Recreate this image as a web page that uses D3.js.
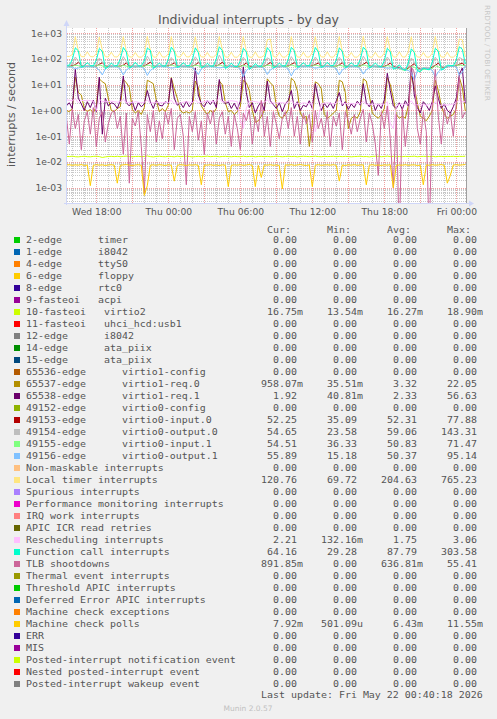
<!DOCTYPE html>
<html><head><meta charset="utf-8">
<script src="https://cdn.jsdelivr.net/npm/d3@7"></script>
<style>
html,body{margin:0;padding:0;background:#f0f0f0;}
svg{display:block;}
text{font-family:"DejaVu Sans",sans-serif;fill:#555;}
.mono{font-family:"DejaVu Sans Mono",monospace;white-space:pre;}
</style></head><body>
<svg id="c" width="497" height="719"></svg>
<script>
// ---------------- DATA ----------------
const chartTitle = "Individual interrupts - by day";
const yAxisTitle = "interrupts / second";
const yTickValues = [1e3, 1e2, 1e1, 1e0, 1e-1, 1e-2, 1e-3];
const yTickLabels = ["1e+03","1e+02","1e+01","1e+00","1e-01","1e-02","1e-03"];
const xTickTimes = [new Date(2026,4,20,18), new Date(2026,4,21,0), new Date(2026,4,21,6),
                    new Date(2026,4,21,12), new Date(2026,4,21,18), new Date(2026,4,22,0)];
const xTickLabels = ["Wed 18:00","Thu 00:00","Thu 06:00","Thu 12:00","Thu 18:00","Fri 00:00"];
const dataStart = new Date(2026,4,20,15,30);   // first sample, 15-minute steps
const stepMinutes = 15;

const legendLabels = [
 "2-edge      timer","1-edge      i8042","4-edge      ttyS0","6-edge      floppy","8-edge      rtc0",
 "9-fasteoi   acpi","10-fasteoi   virtio2","11-fasteoi   uhci_hcd:usb1","12-edge      i8042",
 "14-edge      ata_piix","15-edge      ata_piix","65536-edge      virtio1-config",
 "65537-edge      virtio1-req.0","65538-edge      virtio1-req.1","49152-edge      virtio0-config",
 "49153-edge      virtio0-input.0","49154-edge      virtio0-output.0","49155-edge      virtio0-input.1",
 "49156-edge      virtio0-output.1","Non-maskable interrupts","Local timer interrupts","Spurious interrupts",
 "Performance monitoring interrupts","IRQ work interrupts","APIC ICR read retries","Rescheduling interrupts",
 "Function call interrupts","TLB shootdowns","Thermal event interrupts","Threshold APIC interrupts",
 "Deferred Error APIC interrupts","Machine check exceptions","Machine check polls","ERR","MIS",
 "Posted-interrupt notification event","Nested posted-interrupt event","Posted-interrupt wakeup event"];
const legendColors = ["#00cc00","#0066b3","#ff8000","#ffcc00","#330099","#990099","#ccff00","#ff0000",
 "#808080","#008f00","#00487d","#b35a00","#b38f00","#6b006b","#8fb300","#b30000","#bebebe","#80ff80",
 "#80c1ff","#ffc080","#ffe680","#aa80ff","#ee00cc","#ff8080","#666600","#ffbfff","#00ffcc","#cc6699",
 "#999900","#00cc00","#0066b3","#ff8000","#ffcc00","#330099","#990099","#ccff00","#ff0000","#808080"];
const curVals = ["0.00","0.00","0.00","0.00","0.00","0.00","16.75m","0.00","0.00","0.00","0.00","0.00",
 "958.07m","1.92","0.00","52.25","54.65","54.51","55.89","0.00","120.76","0.00","0.00","0.00","0.00",
 "2.21","64.16","891.85m","0.00","0.00","0.00","0.00","7.92m","0.00","0.00","0.00","0.00","0.00"];
const minVals = ["0.00","0.00","0.00","0.00","0.00","0.00","13.54m","0.00","0.00","0.00","0.00","0.00",
 "35.51m","40.81m","0.00","35.09","23.58","36.33","15.18","0.00","69.72","0.00","0.00","0.00","0.00",
 "132.16m","29.28","0.00","0.00","0.00","0.00","0.00","501.09u","0.00","0.00","0.00","0.00","0.00"];
const avgVals = ["0.00","0.00","0.00","0.00","0.00","0.00","16.27m","0.00","0.00","0.00","0.00","0.00",
 "3.32","2.33","0.00","52.31","59.06","50.83","50.37","0.00","204.63","0.00","0.00","0.00","0.00",
 "1.75","87.79","636.81m","0.00","0.00","0.00","0.00","6.43m","0.00","0.00","0.00","0.00","0.00"];
const maxVals = ["0.00","0.00","0.00","0.00","0.00","0.00","18.90m","0.00","0.00","0.00","0.00","0.00",
 "22.05","56.63","0.00","77.88","143.31","71.47","95.14","0.00","765.23","0.00","0.00","0.00","0.00",
 "3.06","303.58","55.41","0.00","0.00","0.00","0.00","11.55m","0.00","0.00","0.00","0.00","0.00"];
const lastUpdate = "Last update: Fri May 22 00:40:18 2026";
const muninVersion = "Munin 2.0.57";
const rrdCredit = "RRDTOOL / TOBI OETIKER";

// series values (15-minute samples, 134 points)
const virtio2 = [
 .0165,.0162,.0168,.0160,.0158,.0163,.0166,.0161, .0159,.0164,.0167,.0162,.0150,.0158,.0163,.0165,
 .0161,.0166,.0160,.0164,.0168,.0162,.0159,.0163, .0165,.0161,.0163,.0170,.0162,.0158,.0164,.0166,
 .0162,.0160,.0165,.0163,.0159,.0167,.0161,.0164, .0166,.0163,.0158,.0162,.0165,.0160,.0163,.0168,
 .0161,.0164,.0166,.0159,.0163,.0165,.0162,.0160, .0164,.0162,.0160,.0167,.0161,.0163,.0166,.0159,
 .0163,.0165,.0161,.0164,.0160,.0162,.0168,.0163, .0160,.0163,.0166,.0162,.0165,.0159,.0163,.0166,
 .0164,.0161,.0163,.0167,.0162,.0160,.0165,.0162, .0163,.0166,.0160,.0164,.0161,.0165,.0162,.0159,
 .0162,.0164,.0167,.0161,.0163,.0158,.0164,.0166, .0165,.0160,.0163,.0168,.0162,.0164,.0160,.0163,
 .0161,.0165,.0162,.0164,.0167,.0160,.0163,.0165, .0164,.0162,.0166,.0160,.0163,.0165,.0161,.0164,
 .0163,.0166,.0161,.0165,.0164,.01675];
const virtio1Req0 = [
 1.0,0.9,1.2,20,5,4,1.2,0.9,  1.1,0.8,1.5,17,13,11,3,1.0,  0.9,1.2,1.4,16,12,8,1.1,0.8,
 1.0,0.7,1.3,15,13,11,2.5,0.9,  1.2,0.9,1.6,19,7,3,1.0,0.8,  0.9,0.8,1.0,14,8,1.5,1.0,0.7,
 1.0,0.8,1.2,14,10,2,0.9,1.0,  0.7,0.9,1.4,15,12,6,1.0,0.35,  0.4,0.6,1.0,17,12,9,1.5,0.6,
 0.5,0.7,1.1,18,14,6,0.8,0.5,  0.6,0.04,0.3,13,11,7,0.7,0.5,  0.6,0.8,1.0,15,13,5,0.2,0.5,
 0.6,0.5,0.9,17,14,4,0.8,0.6,  0.5,0.7,1.2,19,10,3,0.7,0.5,  0.6,0.5,1.5,22,8,2,0.6,0.5,
 0.4,0.6,1.0,15,6,1.5,0.7,0.5,  0.6,0.7,1.2,19,8,0.96];
const virtio1Req1 = [
 1.5,2.0,1.2,40,3,1.8,1.0,2.2,  1.3,2.5,0.9,20,0.12,3,1.5,2.0,  1.8,1.2,2.5,22,2.0,1.5,2.2,1.0,
 2.0,1.4,1.8,6,2.2,1.2,2.5,1.6,  1.5,2.2,1.9,18,3.0,1.6,2.0,1.3,  2.3,1.4,2.0,45,4,1.8,1.4,2.4,
 1.7,2.5,1.3,16,2.5,1.8,2.2,1.2,  1.9,1.1,2.3,50,5,1.3,2.0,0.8,  1.5,2.2,1.0,14,2.4,1.7,1.2,2.0,
 0.9,1.8,2.5,6,1.2,2.2,1.0,1.6,  1.4,2.4,1.2,11,2.8,1.0,1.9,1.3,  2.0,1.2,2.4,5,1.5,2.2,1.1,1.8,
 1.3,2.3,1.6,11,2.0,1.4,2.5,1.0,  1.8,1.2,2.6,28,6,1.5,1.2,2.0,  1.1,2.4,1.5,50,4,1.3,0.8,2.2,
 1.6,1.0,2.2,9,3,1.2,1.8,1.0,  0.8,1.4,3.0,25,45,1.92];
const virtio0In0 = [
 53,52,55,60,74,56,52,51, 52,50,54,62,72,55,51,52, 51,52,53,58,70,54,52,50, 52,51,54,63,76,56,51,52,
 53,52,55,60,71,55,52,51, 51,50,53,59,73,56,50,51, 52,51,54,61,75,55,51,52, 50,49,52,58,70,54,50,49,
 51,50,53,60,74,55,51,50, 52,51,54,62,72,56,52,51, 53,52,55,61,70,55,52,53, 52,51,53,59,72,54,51,52,
 51,52,54,62,75,56,52,51, 50,49,52,58,70,53,48,46, 40,38,45,55,66,48,40,42, 44,42,48,57,69,50,46,50,
 52,53,55,62,70,52.25];
const virtio0Out0 = [
 57,56,62,120,82,58,56,55, 56,55,60,110,78,57,55,56, 55,56,61,125,80,58,56,55, 56,55,63,130,85,57,55,56,
 57,56,60,115,78,58,56,57, 56,55,62,122,80,57,55,56, 55,56,64,143,88,58,56,55, 56,54,60,118,79,56,54,55,
 55,56,61,112,95,58,56,55, 56,55,62,125,82,57,55,56, 57,56,61,120,80,58,56,57, 56,55,60,118,78,57,55,56,
 55,56,63,130,84,58,56,55, 54,53,60,120,80,55,52,50, 45,42,55,110,75,50,44,46, 48,46,56,118,78,52,50,54,
 56,55,62,115,100,54.65];
const virtio0In1 = [
 51,50,52,58,55,49,50,51, 50,51,53,60,54,48,50,50, 51,50,52,57,53,49,51,50, 50,51,52,59,55,48,50,51,
 51,50,53,60,54,49,50,50, 50,50,52,58,55,48,50,51, 51,50,52,61,54,49,51,50, 50,49,51,57,53,47,49,50,
 50,50,52,58,56,48,50,51, 51,50,52,60,54,49,50,51, 51,51,53,59,55,49,51,52, 50,50,52,58,54,48,50,51,
 51,50,52,60,55,49,50,50, 49,48,50,56,52,46,44,42, 38,36,42,52,48,40,37,39, 41,40,45,55,50,43,45,50,
 52,53,54,60,57,54.51];
const virtio0Out1 = [
 50,49,48,42,45,47,50,51, 50,50,48,36,24,42,49,50, 50,49,40,24,38,44,49,50, 50,49,42,23,36,43,50,51,
 50,50,48,44,46,48,50,50, 50,49,47,37,25,42,49,50, 50,50,48,45,47,48,50,51, 50,49,40,20,36,44,49,50,
 49,50,42,25,38,44,49,50, 50,49,40,22,37,43,50,50, 50,50,48,44,46,48,50,51, 50,49,41,24,38,44,49,50,
 50,49,42,26,39,45,50,50, 49,48,47,44,45,46,45,44, 40,38,36,30,15,35,40,42, 44,42,36,20,32,40,45,50,
 52,53,50,24,30,55.89];
const localTimer = [
 128,126,150,735,210,124,122,190, 125,121,160,720,230,123,120,185, 122,120,170,740,200,121,119,180,
 120,118,150,760,220,120,118,190, 121,119,160,745,210,122,120,185, 123,120,180,730,190,121,119,180,
 120,118,150,750,240,120,118,185, 119,117,160,740,200,119,117,190, 118,117,140,560,600,125,118,180,
 120,118,160,745,210,120,118,185, 121,119,180,735,190,121,119,190, 120,118,170,750,200,120,118,180,
 119,118,160,765,210,120,118,185, 120,118,170,740,210,121,119,190, 121,119,190,735,180,120,118,180,
 120,118,170,745,200,120,118,185, 119,118,150,600,560,120.76];
const resched = [
 2.6,2.5,2.4,2.9,2.0,2.5,2.4,2.5, 2.4,2.3,1.0,2.8,2.2,2.3,2.2,2.3, 2.2,2.1,2.2,2.7,2.0,2.1,2.0,2.2,
 2.1,2.0,2.1,2.6,1.9,2.0,2.1,2.0, 2.0,2.1,2.0,2.5,1.8,2.0,1.9,2.1, 2.2,2.1,2.0,2.6,2.0,2.1,2.2,2.3,
 2.3,2.2,2.3,3.0,2.1,2.2,2.3,2.4, 2.3,2.2,0.4,0.2,1.2,2.2,2.3,2.2, 2.1,2.0,2.1,2.6,1.9,2.0,1.9,2.0,
 2.0,1.9,2.0,2.4,1.8,1.9,1.8,2.0, 1.9,1.8,1.9,0.15,0.5,1.8,1.9,2.0, 1.9,1.8,1.9,2.5,1.8,1.9,1.8,1.9,
 1.8,1.9,1.8,2.3,1.7,1.8,1.7,1.8, 1.7,1.8,1.7,2.2,0.3,0.2,1.5,1.7, 1.8,1.7,1.8,2.4,1.6,1.7,1.6,1.7,
 1.6,1.7,1.6,2.2,1.5,1.6,1.7,1.6, 1.7,1.8,2.0,2.6,2.2,2.21];
const funcCall = [
 58,57,95,270,210,48,55,72, 56,54,90,255,200,42,50,70, 55,56,100,280,190,45,52,75, 54,55,85,265,220,44,53,70,
 55,53,95,290,200,47,54,72, 56,55,90,270,180,46,52,68, 54,53,100,300,210,43,50,70, 52,51,85,260,190,40,48,66,
 53,52,90,275,200,45,52,70, 55,54,95,285,210,48,54,72, 56,55,100,280,190,47,55,75, 57,56,90,270,200,46,54,72,
 56,55,95,290,210,45,53,70, 54,50,85,260,190,40,45,60, 42,36,70,250,180,35,32,45, 40,38,75,260,200,37,42,58,
 56,55,90,300,240,64.16];
const tlb = [
 0.6,0.05,1.1,0.2,0.7,0.03,0.4,0.9,  0.12,1.3,0.04,0.5,0.9,0.06,0.3,0.8,  1.0,0.2,0.6,0.02,0.8,0.0015,0.5,0.25,
 0.9,0.04,0.0006,0.7,0.15,1.0,0.06,0.4,  0.08,0.9,0.3,1.2,0.03,0.5,0.7,0.1,  0.0013,0.6,0.15,0.9,0.07,0.4,0.02,0.8,
 0.3,1.0,0.05,0.5,0.9,0.12,0.6,0.04,  0.7,0.2,0.03,0.8,0.4,1.1,0.05,0.6,  0.15,2.5,0.1,0.6,0.04,0.9,0.3,0.08,
 0.5,0.9,0.2,1.3,0.1,0.6,0.05,0.8,  0.3,0.7,0.06,1.0,0.2,0.5,0.1,0.9,  0.04,0.6,0.25,0.8,0.03,0.9,0.4,0.12,
 0.7,0.15,0.5,1.1,0.06,0.8,0.3,0.05,  0.003,0.9,0.2,1.5,0.08,0.001,0.7,0,  1.2,0.04,0.5,50,30,0.2,0.05,0.9,
 0.15,0,1.8,40,0.6,0.05,1.2,0.3,  0.8,0.1,2.0,20,0.5,0.89];
const mcPolls = [
 .0076,.0078,.0074,.0077,.0075,.0079,.0073,.0076, .0012,.0074,.0078,.0075,.0077,.0073,.0076,.0078,
 .0075,.0015,.0074,.0077,.0079,.0075,.0073,.0076, .0078,.0074,.0005,.0012,.0075,.0077,.0074,.0078,
 .0076,.0073,.0077,.0075,.0018,.0074,.0078,.0076, .0073,.0077,.0075,.0078,.0074,.0013,.0076,.0075,
 .0078,.0074,.0076,.0073,.0077,.0075,.0011,.0074, .0077,.0075,.0078,.0074,.0076,.0079,.0073,.0011,
 .0074,.0025,.0077,.0075,.0078,.0074,.0076,.0073, .0009,.0077,.0075,.0078,.0074,.0076,.0079,.0075,
 .0073,.0077,.0011,.0075,.0078,.0074,.0076,.0077, .0075,.0078,.0074,.0018,.0076,.0073,.0077,.0075,
 .0078,.0074,.0076,.0077,.0013,.0075,.0078,.0074, .0076,.0073,.0077,.0075,.0078,.0010,.0074,.0076,
 .0075,.0078,.0074,.0076,.0077,.0073,.0075,.0013, .0077,.0074,.0078,.0075,.0076,.0079,.0074,.0015,
 .0030,.0076,.0078,.0075,.0077,.00792];

// which legend row each drawn series belongs to (drawing order = legend order)
const drawnSeries = [
 {row:6, values:virtio2}, {row:12, values:virtio1Req0}, {row:13, values:virtio1Req1},
 {row:15, values:virtio0In0}, {row:16, values:virtio0Out0}, {row:17, values:virtio0In1},
 {row:18, values:virtio0Out1}, {row:20, values:localTimer}, {row:25, values:resched},
 {row:26, values:funcCall}, {row:27, values:tlb}, {row:32, values:mcPolls}];

// ---------------- DRAW ----------------
const X0 = 67, X1 = 466, Y0 = 28, Y1 = 203;
const svg = d3.select("#c");
const tStart = new Date(2026,4,20,15,33,30), tEnd = new Date(2026,4,22,0,48,30);
const x = d3.scaleTime().domain([tStart, tEnd]).range([X0, X1]);
const yMin = Math.pow(10,-3.595), yMax = Math.pow(10,3.206);
const y = d3.scaleLog().domain([yMin, yMax]).range([Y1, Y0]);
const timeAt = i => new Date(+dataStart + i*stepMinutes*60000);

svg.append("rect").attr("x",X0).attr("y",Y0).attr("width",X1-X0).attr("height",Y1-Y0).attr("fill","#fff");

// grid
const grid = svg.append("g");
const minorH = [];
for (let k=-4;k<=3;k++) for (let m=2;m<=9;m++){ const v=m*Math.pow(10,k); if (v>yMin && v<yMax) minorH.push(v); }
const hours = d3.timeHour.range(tStart, tEnd);
grid.selectAll(".mh").data(minorH).join("line")
  .attr("x1",X0).attr("x2",X1).attr("y1",d=>Math.round(y(d))+0.5).attr("y2",d=>Math.round(y(d))+0.5)
  .attr("stroke","#c8c8c8").attr("stroke-dasharray","1,1");
grid.selectAll(".mv").data(hours.filter(h=>h.getHours()%3!==0)).join("line")
  .attr("y1",Y0).attr("y2",Y1).attr("x1",d=>Math.round(x(d))+0.5).attr("x2",d=>Math.round(x(d))+0.5)
  .attr("stroke","#c8c8c8").attr("stroke-dasharray","1,1");
grid.selectAll(".Mh").data(yTickValues).join("line")
  .attr("x1",X0).attr("x2",X1).attr("y1",d=>Math.round(y(d))+0.5).attr("y2",d=>Math.round(y(d))+0.5)
  .attr("stroke","#f0a0a0").attr("stroke-dasharray","1,1");
grid.selectAll(".Mv").data(hours.filter(h=>h.getHours()%3===0)).join("line")
  .attr("y1",Y0).attr("y2",Y1).attr("x1",d=>Math.round(x(d))+0.5).attr("x2",d=>Math.round(x(d))+0.5)
  .attr("stroke","#f0a0a0").attr("stroke-dasharray","1,1");

// lines
svg.append("clipPath").attr("id","clip").append("rect")
  .attr("x",X0).attr("y",Y0).attr("width",X1-X0).attr("height",Y1-Y0);
const lineGen = d3.line().x((d,i)=>x(timeAt(i))).y(d=>y(Math.max(d, 1e-5)));
const lg = svg.append("g").attr("clip-path","url(#clip)");
drawnSeries.forEach(s=>{
  lg.append("path").attr("d", lineGen(s.values)).attr("fill","none")
    .attr("stroke", legendColors[s.row]).attr("stroke-width",1);
});

// right frame line
svg.append("line").attr("x1",X1+0.5).attr("x2",X1+0.5).attr("y1",Y0).attr("y2",Y1).attr("stroke","#a0a0a0");

// axes lines + arrows
const axisCol = "#cfd6f8";
svg.append("line").attr("x1",X0-0.5).attr("x2",X0-0.5).attr("y1",Y1+2).attr("y2",Y0-4).attr("stroke",axisCol);
svg.append("line").attr("x1",X0-3).attr("x2",X1+4).attr("y1",Y1+0.5).attr("y2",Y1+0.5).attr("stroke",axisCol);
svg.append("path").attr("d",`M${X0-3.5},${Y0-2} L${X0+2.5},${Y0-2} L${X0-0.5},${Y0-8} Z`).attr("fill",axisCol);
svg.append("path").attr("d",`M${X1+3},${Y1-2.5} L${X1+3},${Y1+3.5} L${X1+8},${Y1+0.5} Z`).attr("fill",axisCol);

// y axis labels
const yAxis = d3.axisLeft(y).tickValues(yTickValues).tickFormat((d,i)=>yTickLabels[i]).tickSize(0).tickPadding(5);
const gy = svg.append("g").attr("transform",`translate(${X0},0)`).call(yAxis);
gy.select(".domain").remove();
gy.selectAll("text").attr("font-size","9.2px").attr("font-family","DejaVu Sans").attr("fill","#555");

// x axis labels
const xAxis = d3.axisBottom(x).tickValues(xTickTimes).tickFormat((d,i)=>xTickLabels[i]).tickSize(0).tickPadding(5.5);
const gx = svg.append("g").attr("transform",`translate(0,${Y1})`).call(xAxis);
gx.select(".domain").remove();
gx.selectAll("text").attr("font-size","9.2px").attr("font-family","DejaVu Sans").attr("fill","#555");

// title
svg.append("text").attr("x",248.5).attr("y",24).attr("text-anchor","middle")
  .attr("font-size","13px").attr("textLength",181).attr("lengthAdjust","spacingAndGlyphs").text(chartTitle);
// y title
svg.append("text").attr("transform","translate(14.5,114.5) rotate(-90)").attr("text-anchor","middle")
  .attr("font-size","10px").attr("textLength",105).attr("lengthAdjust","spacingAndGlyphs").text(yAxisTitle);
// rrd credit
svg.append("text").attr("transform","translate(485,5) rotate(90)").attr("fill","#c8c8c8").style("fill","#c8c8c8")
  .attr("font-size","7px").attr("textLength",96).attr("lengthAdjust","spacingAndGlyphs").text(rrdCredit);

// legend
const monoSize = 8.6, adv = 6.0, sx = adv/(monoSize*0.602);
function mono(str, xx, yy){
  return svg.append("text").attr("class","mono").attr("xml:space","preserve")
    .attr("font-size",monoSize+"px").attr("transform",`translate(${xx},${yy}) scale(${sx},1)`).text(str);
}
const fmt = s => { const m = s.match(/^([\d.]+)([a-zA-Z]?)$/); return m[1].padStart(6," ") + m[2]; };
const cols = [261, 321, 381, 441];
["Cur:","Min:","Avg:","Max:"].forEach((h,j)=>mono(h, cols[j]+6, 233));
legendLabels.forEach((lab,i)=>{
  const by = 242.5 + 12*i;
  svg.append("rect").attr("x",14).attr("y",by-5.5).attr("width",6).attr("height",6).attr("fill",legendColors[i]);
  mono(lab, 26, by);
  [curVals, minVals, avgVals, maxVals].forEach((arr,j)=>mono(fmt(arr[i]), cols[j], by));
});
mono(lastUpdate, 261, 697.7);
svg.append("text").attr("x",248).attr("y",711).attr("text-anchor","middle").attr("font-size","7.5px")
  .style("fill","#c0c0c0").text(muninVersion);
</script></body></html>
